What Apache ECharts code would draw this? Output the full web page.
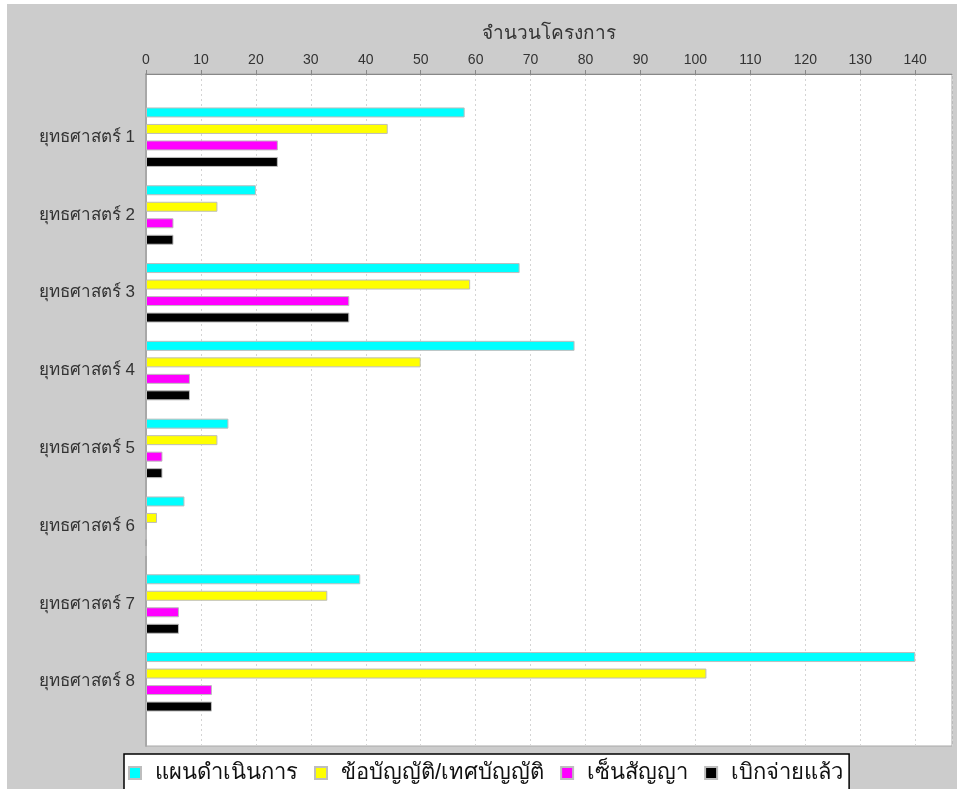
<!DOCTYPE html>
<html>
<head>
<meta charset="utf-8">
<script src="https://cdn.jsdelivr.net/npm/echarts@6/dist/echarts.min.js"></script>
<style>
html,body{margin:0;padding:0;background:#ffffff;width:957px;height:789px;overflow:hidden;}
#c{position:absolute;left:7px;top:4px;width:950px;height:785px;}
</style>
</head>
<body>
<div id="c"></div>
<script>
var categories = ['ยุทธศาสตร์ 1','ยุทธศาสตร์ 2','ยุทธศาสตร์ 3','ยุทธศาสตร์ 4','ยุทธศาสตร์ 5','ยุทธศาสตร์ 6','ยุทธศาสตร์ 7','ยุทธศาสตร์ 8'];
var seriesNames = ['แผนดำเนินการ','ข้อบัญญัติ/เทศบัญญัติ','เซ็นสัญญา','เบิกจ่ายแล้ว'];
var planValues     = [58, 20, 68, 78, 15, 7, 39, 140];
var ordinanceValues = [44, 13, 59, 50, 13, 2, 33, 102];
var contractValues = [24, 5, 37, 8, 3, 0, 6, 12];
var disbursedValues = [24, 5, 37, 8, 3, 0, 6, 12];
var seriesColors = ['#00ffff','#ffff00','#ff00ff','#000000'];
var axisMax = 146.7;
var axisTitle = 'จำนวนโครงการ';

var allValues = [planValues, ordinanceValues, contractValues, disbursedValues];
var font = 'sans-serif';

var chart = echarts.init(document.getElementById('c'), null, {renderer:'canvas'});
var series = allValues.map(function(vals, i){
  return {
    name: seriesNames[i],
    type: 'bar',
    xAxisIndex: 1,
    yAxisIndex: 1,
    data: vals,
    barWidth: 10,
    barGap: '65%',
    itemStyle: {color: seriesColors[i], borderColor: '#bdbdbd', borderWidth: 1},
    emphasis: {disabled: true},
    animation: false
  };
});

chart.setOption({
  backgroundColor: '#cccccc',
  animation: false,
  grid: [
    {left: 139, top: 70, right: 5, bottom: 43, show: true, backgroundColor: '#ffffff', borderColor: '#a8a8a8', borderWidth: 1},
    {left: 139, top: 94.3, right: 5, bottom: 68.3, show: false}
  ],
  xAxis: [
    {
      gridIndex: 0, type: 'value', position: 'top', min: 0, max: axisMax, interval: 10,
      name: axisTitle, nameLocation: 'middle', nameGap: 31,
      nameTextStyle: {fontFamily: font, fontSize: 19, color: '#333333'},
      axisLine: {show: true, onZero: false, lineStyle: {color: '#888888', width: 1}},
      axisTick: {show: true, length: 4, lineStyle: {color: '#888888'}},
      axisLabel: {margin: 7, fontFamily: font, fontSize: 14, color: '#333333', showMaxLabel: false},
      splitLine: {show: true, lineStyle: {color: '#d4d4d4', type: [2, 3], width: 1}}
    },
    {gridIndex: 1, type: 'value', min: 0, max: axisMax, show: false}
  ],
  yAxis: [
    {
      gridIndex: 0, type: 'value', min: 0, max: 1,
      axisLine: {show: true, lineStyle: {color: '#a8a8a8', width: 2}},
      axisTick: {show: false}, axisLabel: {show: false}, splitLine: {show: false}
    },
    {
      gridIndex: 1, type: 'category', data: categories, inverse: true,
      axisLine: {show: false}, axisTick: {show: false},
      axisLabel: {margin: 11, fontFamily: font, fontSize: 17, color: '#333333'},
      splitLine: {show: false}
    }
  ],
  legend: {
    data: seriesNames,
    left: 117, top: 750,
    orient: 'horizontal',
    backgroundColor: '#ffffff',
    borderColor: '#000000', borderWidth: 1.5, borderRadius: 0,
    padding: [8, 6, 20, 4],
    itemWidth: 12, itemHeight: 12, itemGap: 16,
    icon: 'rect',
    textStyle: {fontFamily: font, fontSize: 22, color: '#111111', padding: [0,0,0,9]},
    selectedMode: false
  },
  series: series
});
</script>
</body>
</html>
